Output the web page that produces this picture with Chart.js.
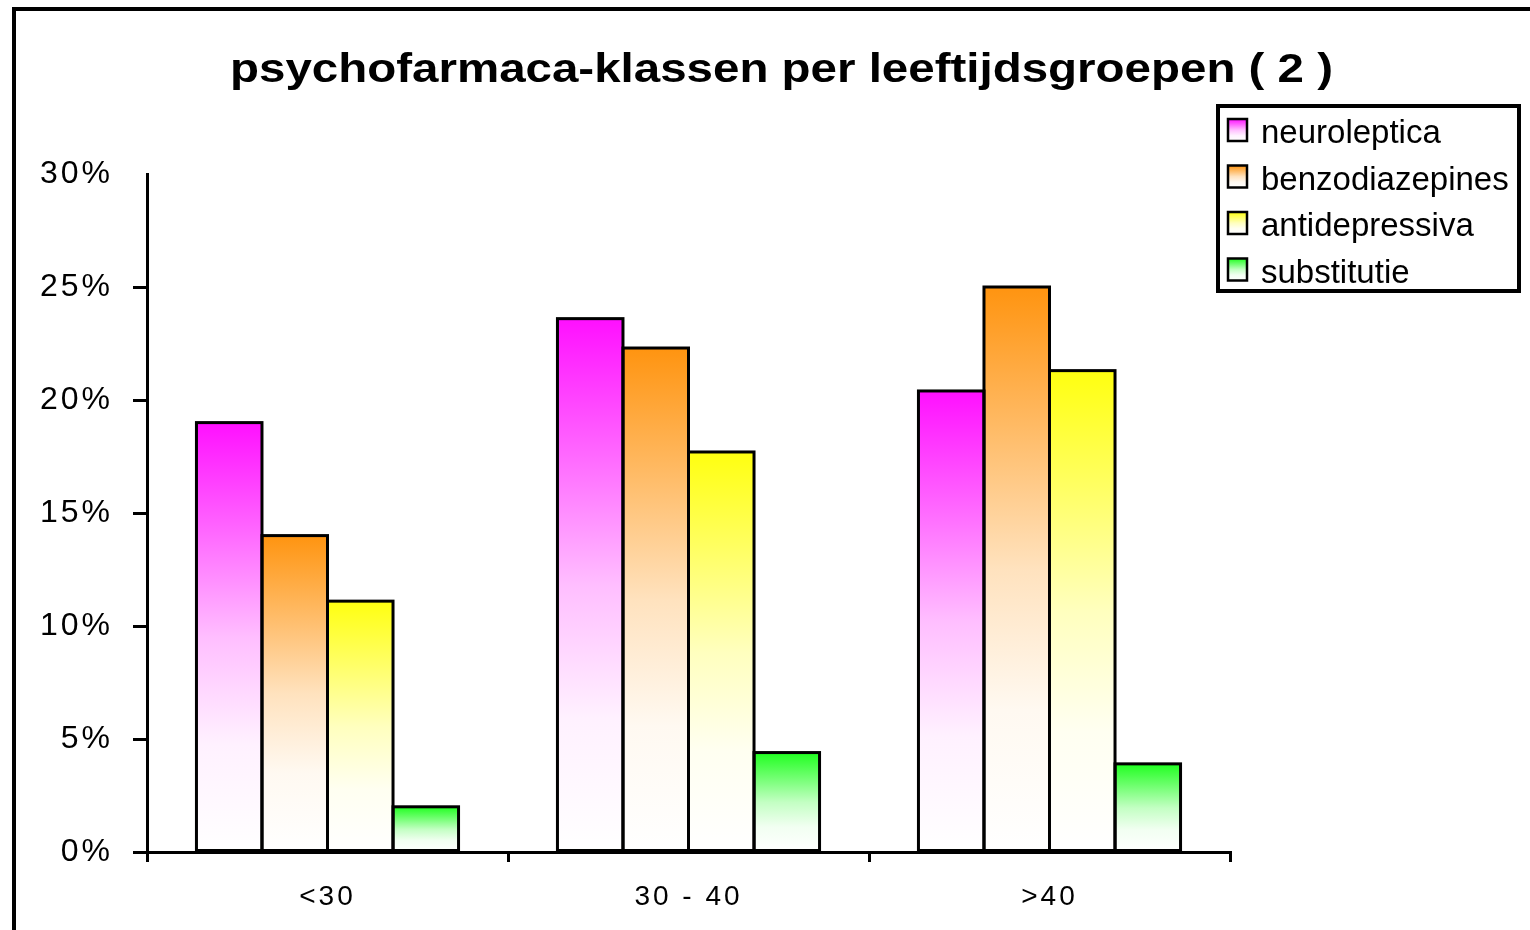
<!DOCTYPE html>
<html>
<head>
<meta charset="utf-8">
<title>psychofarmaca-klassen per leeftijdsgroepen (2)</title>
<script src="https://cdn.jsdelivr.net/npm/chart.js@4/dist/chart.umd.min.js"></script>
<style>
  html, body { margin: 0; padding: 0; background: #fff; overflow: hidden; }
  #chart { display: block; }
</style>
</head>
<body>
<canvas id="chart" width="1530" height="930" style="width:1530px;height:930px"></canvas>
<script>
const categories = ['<30', '30 - 40', '>40'];
const seriesNames = ['neuroleptica', 'benzodiazepines', 'antidepressiva', 'substitutie'];
const neuroleptica = [19.0, 23.6, 20.4];
const benzodiazepines = [14.0, 22.3, 25.0];
const antidepressiva = [11.1, 17.7, 21.3];
const substitutie = [2.0, 4.4, 3.9];
const yTicks = [0, 5, 10, 15, 20, 25, 30];

const topColors = ['#ff10ff', '#ff9410', '#ffff10', '#20ff20'];
const titleText = 'psychofarmaca-klassen per leeftijdsgroepen ( 2 )';
const FONT = '"Liberation Sans", Arial, sans-serif';

// fade from the full colour at the top of a bar to white at its base
const fadeStops = [[0, 0], [0.25, 0.36], [0.5, 0.73], [0.75, 0.94], [1, 1]];

function mixWhite(hex, t) {
  const n = parseInt(hex.slice(1), 16);
  const ch = [(n >> 16) & 255, (n >> 8) & 255, n & 255].map((c) => Math.round(c + (255 - c) * t));
  return `rgb(${ch[0]},${ch[1]},${ch[2]})`;
}

function fade(ctx2d, color, y0, y1) {
  const g = ctx2d.createLinearGradient(0, y0, 0, y1);
  fadeStops.forEach(([pos, t]) => g.addColorStop(pos, mixWhite(color, t)));
  return g;
}

function barFill(color) {
  return (ctx) => {
    const y = ctx.chart.scales.y;
    if (ctx.type !== 'data' || !y) return color;
    const top = y.getPixelForValue(ctx.raw);
    const base = y.getPixelForValue(0);
    if (!Number.isFinite(top) || !Number.isFinite(base) || base - top < 1) return color;
    return fade(ctx.chart.ctx, color, top, base);
  };
}

// black outlines shared between neighbouring bars
const barOutline = {
  id: 'barOutline',
  afterDatasetsDraw(chart) {
    const ctx = chart.ctx;
    ctx.save();
    ctx.strokeStyle = '#000';
    ctx.lineWidth = 3;
    chart.data.datasets.forEach((ds, i) => {
      chart.getDatasetMeta(i).data.forEach((bar) => {
        const { x, y, base, width } = bar.getProps(['x', 'y', 'base', 'width'], true);
        ctx.strokeRect(x - width / 2, y, width, base - y);
      });
    });
    ctx.restore();
  },
};

const tickSpacing = {
  id: 'tickSpacing',
  beforeDraw(chart) {
    chart.ctx.letterSpacing = '3px';
  },
};

// outer frame, title and the boxed legend
const decorations = {
  id: 'decorations',
  afterDraw(chart) {
    const ctx = chart.ctx;
    ctx.save();
    ctx.letterSpacing = '0px';
    ctx.fillStyle = '#000';
    ctx.fillRect(12, 7, 4, 930);
    ctx.fillRect(12, 7, 1530, 4);

    ctx.font = `bold 40px ${FONT}`;
    ctx.textAlign = 'center';
    ctx.textBaseline = 'alphabetic';
    const w = ctx.measureText(titleText).width;
    ctx.save();
    ctx.translate(781.5, 82);
    ctx.scale(1103 / w, 1);
    ctx.fillText(titleText, 0, 0);
    ctx.restore();

    ctx.lineWidth = 4;
    ctx.strokeStyle = '#000';
    ctx.strokeRect(1218, 106, 301, 185);

    ctx.font = `33px ${FONT}`;
    ctx.textAlign = 'left';
    chart.data.datasets.forEach((ds, i) => {
      const baseline = 143 + i * 46.5;
      const sy = baseline - 24;
      ctx.fillStyle = fade(ctx, topColors[i], sy, sy + 22);
      ctx.fillRect(1228, sy, 19, 22);
      ctx.lineWidth = 2.5;
      ctx.strokeRect(1228, sy, 19, 22);
      ctx.fillStyle = '#000';
      ctx.fillText(ds.label, 1261, baseline);
    });
    ctx.restore();
  },
};

const values = [neuroleptica, benzodiazepines, antidepressiva, substitutie];

new Chart(document.getElementById('chart'), {
  type: 'bar',
  data: {
    labels: categories,
    datasets: values.map((data, i) => ({
      label: seriesNames[i],
      data,
      backgroundColor: barFill(topColors[i]),
      borderWidth: 0,
      categoryPercentage: 0.726,
      barPercentage: 1,
    })),
  },
  options: {
    responsive: false,
    animation: false,
    devicePixelRatio: 1,
    layout: { padding: { left: 0, right: 300, top: 174, bottom: 0 } },
    plugins: {
      legend: { display: false },
      title: { display: false },
      tooltip: { enabled: false },
    },
    scales: {
      x: {
        afterFit: (scale) => { scale.height = 78; },
        grid: { offset: true, drawOnChartArea: false, color: '#000', lineWidth: 3, tickLength: 10 },
        border: { color: '#000', width: 3 },
        ticks: { color: '#000', padding: 18, font: { family: FONT, size: 28 } },
      },
      y: {
        min: 0,
        max: 30,
        afterFit: (scale) => { scale.width = 147; },
        afterBuildTicks: (scale) => { scale.ticks = yTicks.map((value) => ({ value })); },
        grid: {
          drawOnChartArea: false,
          color: (ctx) => (ctx.tick && ctx.tick.value === 30 ? 'rgba(0,0,0,0)' : '#000'),
          lineWidth: 3,
          tickLength: 14,
        },
        border: { color: '#000', width: 3 },
        ticks: {
          color: '#000',
          padding: 20,
          font: { family: FONT, size: 32 },
          callback: (v) => `${v}%`,
        },
      },
    },
  },
  plugins: [tickSpacing, barOutline, decorations],
});
</script>
</body>
</html>
